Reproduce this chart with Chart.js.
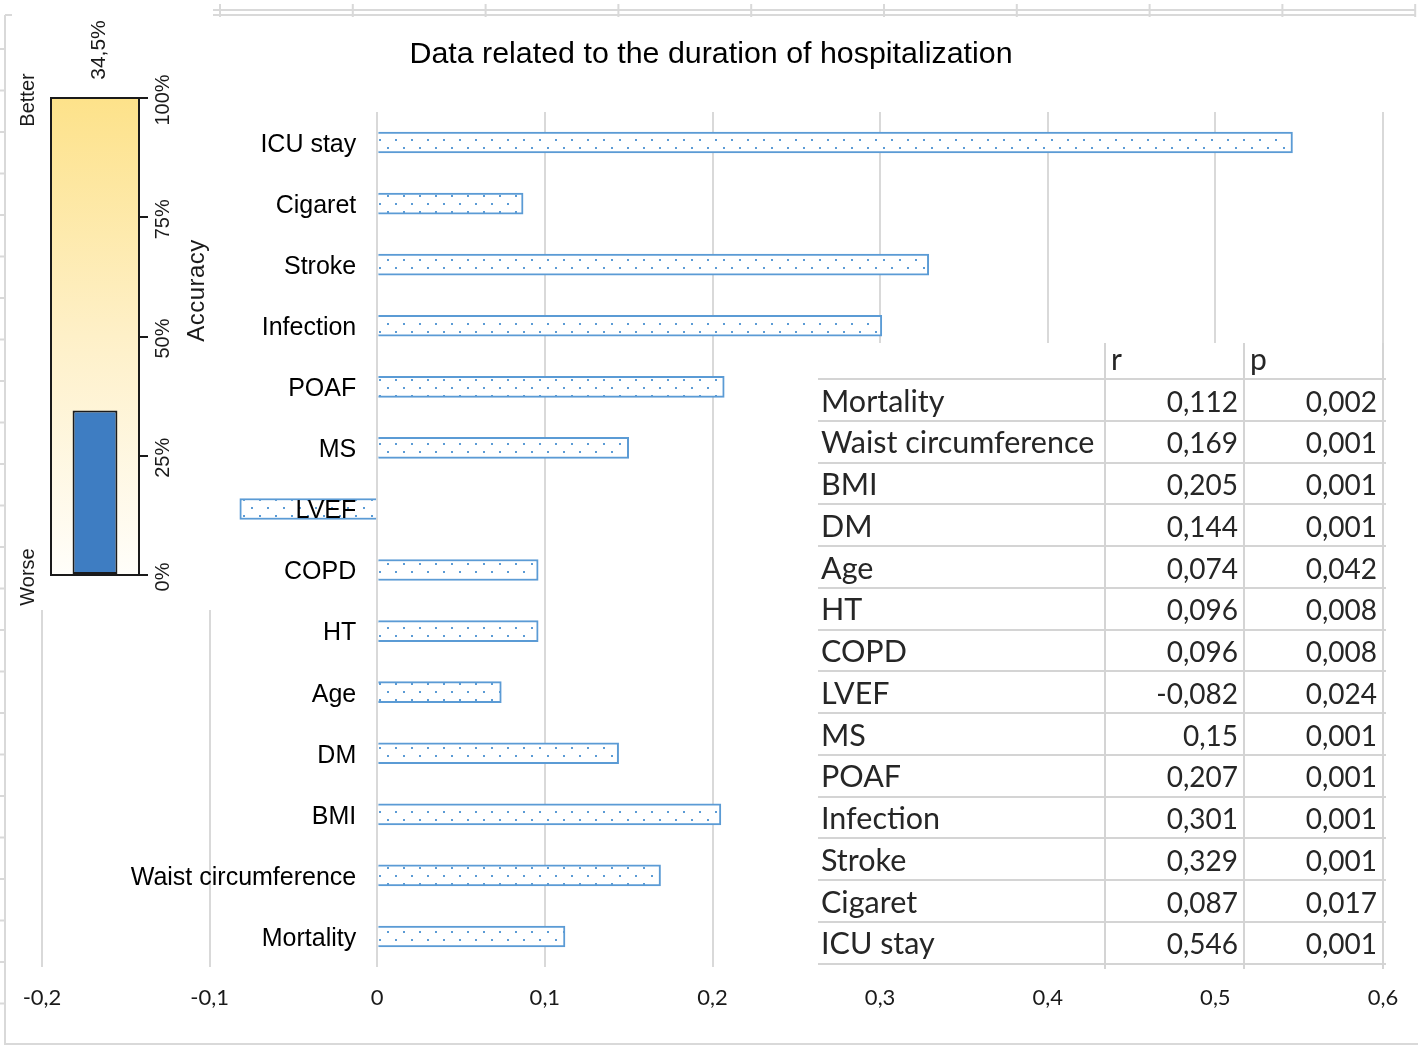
<!DOCTYPE html>
<html><head><meta charset="utf-8">
<script src="https://cdn.jsdelivr.net/npm/chart.js@4.4.1/dist/chart.umd.min.js"></script>
<style>
html,body{margin:0;padding:0;background:#fff;}
#wrap{position:relative;width:1418px;height:1048px;overflow:hidden;}
#main{position:absolute;left:0;top:0;}
#gauge{position:absolute;left:8px;top:18px;}
</style></head><body>
<div id="wrap">
<canvas id="main" width="1418" height="1048"></canvas>
<canvas id="gauge" width="210" height="592"></canvas>
</div>
<script>
// ---- data ----
const chartTitle = 'Data related to the duration of hospitalization';
const categories = ['ICU stay','Cigaret','Stroke','Infection','POAF','MS','LVEF','COPD','HT','Age','DM','BMI','Waist circumference','Mortality'];
const rValues = [0.546, 0.087, 0.329, 0.301, 0.207, 0.15, -0.082, 0.096, 0.096, 0.074, 0.144, 0.205, 0.169, 0.112];
const xMin = -0.2, xMax = 0.6, xStep = 0.1;

const tableHeaders = ['', 'r', 'p'];
const tableLabels = ['Mortality','Waist circumference','BMI','DM','Age','HT','COPD','LVEF','MS','POAF','Infection','Stroke','Cigaret','ICU stay'];
const tableR = [0.112, 0.169, 0.205, 0.144, 0.074, 0.096, 0.096, -0.082, 0.15, 0.207, 0.301, 0.329, 0.087, 0.546];
const tableP = [0.002, 0.001, 0.001, 0.001, 0.042, 0.008, 0.008, 0.024, 0.001, 0.001, 0.001, 0.001, 0.017, 0.001];

const accuracyLabel = 'Accuracy';
const accuracyValue = [34.5];
const accuracyTicks = [0, 25, 50, 75, 100];
const betterLabel = 'Better', worseLabel = 'Worse';

// ---- helpers ----
const comma = s => String(s).replace('.', ',');
const fmtTick = v => { const r = Math.round(v * 10) / 10; return r === 0 ? '0' : comma(r); };

const mainCtx = document.getElementById('main').getContext('2d');
function makeDots(ctx) {
  const c = document.createElement('canvas'); c.width = 16; c.height = 16;
  const g = c.getContext('2d');
  g.fillStyle = '#ffffff'; g.fillRect(0, 0, 16, 16);
  g.fillStyle = '#5B9BD5';
  g.fillRect(3, 3, 2, 2); g.fillRect(11, 11, 2, 2);
  return ctx.createPattern(c, 'repeat');
}
const dots = makeDots(mainCtx);

const GRID = '#D9D9D9';
const decor = {
  id: 'decor',
  beforeDraw(chart) {
    const c = chart.ctx;
    c.save();
    c.fillStyle = '#fff'; c.fillRect(0, 0, chart.width, chart.height);
    c.strokeStyle = GRID; c.lineWidth = 2;
    c.beginPath();
    // top ruler
    c.moveTo(213, 10); c.lineTo(1416, 10);
    c.moveTo(213, 15); c.lineTo(1416, 15);
    for (let k = 0; k < 10; k++) { const x = 220 + k * 132.8; c.moveTo(x, 4); c.lineTo(x, 17); }
    // left border and ticks
    c.moveTo(5, 15); c.lineTo(5, 1045);
    c.moveTo(5, 15); c.lineTo(12, 15);
    for (let y = 49; y < 1040; y += 41.5) { c.moveTo(0, y); c.lineTo(5, y); }
    // bottom border
    c.moveTo(5, 1044); c.lineTo(1418, 1044);
    c.stroke();
    c.restore();
  },
  afterDatasetsDraw(chart) {
    const c = chart.ctx, xs = chart.scales.x, ys = chart.scales.y;
    c.save();
    c.font = '25px "Liberation Sans", Arial, sans-serif';
    c.fillStyle = '#000';
    c.textAlign = 'right'; c.textBaseline = 'middle';
    const x0 = xs.getPixelForValue(0) - 21;
    categories.forEach((lab, i) => c.fillText(lab, x0, ys.getPixelForValue(i) + 2.5));
    // title
    c.font = '30.4px "Liberation Sans", Arial, sans-serif';
    c.textAlign = 'center';
    c.fillText(chartTitle, 711, 55);
    c.restore();
  },
  afterDraw(chart) {
    // data table overlay
    const c = chart.ctx;
    const left = 818, right = 1386, top = 343, bodyTop = 379, rowH = 41.75, bottom = 969;
    const cols = [1105, 1244, 1383];
    c.save();
    c.fillStyle = '#fff'; c.fillRect(left, top, right - left, bottom - top);
    c.strokeStyle = '#D4D4D4'; c.lineWidth = 2;
    c.beginPath();
    for (let k = 0; k <= tableLabels.length; k++) { const y = Math.round(bodyTop + k * rowH); c.moveTo(left, y); c.lineTo(right, y); }
    cols.forEach(x => { c.moveTo(x, top); c.lineTo(x, bottom); });
    c.stroke();
    c.fillStyle = '#262626';
    c.textBaseline = 'alphabetic';
    c.textAlign = 'left';
    c.font = '30px Lato, "Open Sans", sans-serif';
    c.fillText(tableHeaders[1], cols[0] + 6, top + 27);
    c.fillText(tableHeaders[2], cols[1] + 6, top + 27);
    tableLabels.forEach((lab, i) => {
      const base = bodyTop + i * rowH + 32.5;
      c.textAlign = 'left';
      c.font = '30.5px Lato, "Open Sans", sans-serif';
      c.fillText(lab, left + 3, base);
      c.textAlign = 'right';
      c.font = '28px Lato, "Open Sans", sans-serif';
      c.fillText(comma(tableR[i]), cols[1] - 6, base);
      c.fillText(comma(tableP[i].toFixed(3)), cols[2] - 6, base);
    });
    c.restore();
  }
};

new Chart(mainCtx, {
  type: 'bar',
  data: { labels: categories, datasets: [{ data: rValues, backgroundColor: dots, borderColor: '#5B9BD5', borderWidth: 2, barThickness: 21 }] },
  options: {
    indexAxis: 'y', responsive: false, animation: false,
    layout: { padding: { left: 42, right: 35, top: 112, bottom: 0 } },
    plugins: { legend: { display: false }, tooltip: { enabled: false }, title: { display: false } },
    scales: {
      x: {
        type: 'linear', min: xMin, max: xMax,
        ticks: { stepSize: xStep, padding: 18, color: '#1a1a1a', font: { family: 'Lato, "Open Sans", sans-serif', size: 22 }, callback: v => fmtTick(v) },
        grid: { color: GRID, lineWidth: 2, drawTicks: false },
        border: { display: false },
        afterFit: s => { s.height = 81; }
      },
      y: { display: false, offset: true }
    }
  },
  plugins: [decor]
});

// ---- accuracy gauge ----
const gaugeDecor = {
  id: 'gaugeDecor',
  beforeDraw(chart) {
    const c = chart.ctx, a = chart.chartArea;
    c.save();
    c.fillStyle = '#fff'; c.fillRect(0, 0, chart.width, chart.height);
    const g = c.createLinearGradient(0, a.top, 0, a.bottom);
    g.addColorStop(0, '#FDE28A'); g.addColorStop(0.5, '#FEF0C8'); g.addColorStop(1, '#FFFEFA');
    c.fillStyle = g; c.fillRect(a.left, a.top, a.right - a.left, a.bottom - a.top);
    c.strokeStyle = '#1a1a1a'; c.lineWidth = 2;
    c.beginPath();
    c.moveTo(a.right, a.top); c.lineTo(a.left, a.top); c.lineTo(a.left, a.bottom); c.lineTo(a.right, a.bottom);
    c.stroke();
    c.restore();
  },
  afterDraw(chart) {
    const c = chart.ctx, a = chart.chartArea, ys = chart.scales.y;
    const bar = chart.getDatasetMeta(0).data[0];
    const rot = (txt, x, y, font) => {
      c.save(); c.translate(x, y); c.rotate(-Math.PI / 2);
      c.font = font; c.fillStyle = '#1a1a1a'; c.textAlign = 'center'; c.textBaseline = 'middle';
      c.fillText(txt, 0, 0); c.restore();
    };
    const f20 = '20px "Liberation Sans", Arial, sans-serif';
    rot(comma(accuracyValue[0]) + '%', bar.x + 4, a.top - 48, '21px "Liberation Sans", Arial, sans-serif');
    accuracyTicks.forEach(v => rot(v + '%', a.right + 24, ys.getPixelForValue(v) + 2, f20));
    c.save(); c.letterSpacing = '0.5px';
    rot(accuracyLabel, a.right + 58, (a.top + a.bottom) / 2 - 46, '24px "Liberation Sans", Arial, sans-serif');
    c.restore();
    rot(betterLabel, a.left - 23, a.top + 2, f20);
    rot(worseLabel, a.left - 23, a.bottom + 2, f20);
  }
};

new Chart(document.getElementById('gauge').getContext('2d'), {
  type: 'bar',
  data: { labels: [accuracyLabel], datasets: [{ data: accuracyValue, backgroundColor: '#3E7DC2', borderColor: '#1b1b1b', borderWidth: 2, borderSkipped: false, barPercentage: 0.51, categoryPercentage: 1 }] },
  options: {
    responsive: false, animation: false,
    layout: { padding: { left: 43, top: 80, bottom: 35, right: 0 } },
    plugins: { legend: { display: false }, tooltip: { enabled: false } },
    scales: {
      x: { display: false },
      y: {
        position: 'right', min: 0, max: 100,
        afterBuildTicks: s => { s.ticks = accuracyTicks.map(v => ({ value: v })); },
        ticks: { display: false },
        grid: { drawOnChartArea: false, drawTicks: true, tickLength: 9, color: '#1a1a1a', lineWidth: 2 },
        border: { display: true, color: '#1a1a1a', width: 2 },
        afterFit: s => { s.width = 79; }
      }
    }
  },
  plugins: [gaugeDecor]
});
</script>
</body></html>
